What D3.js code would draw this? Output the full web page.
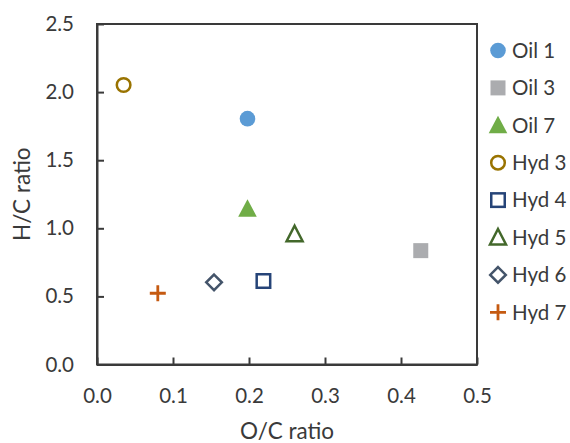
<!DOCTYPE html>
<html><head><meta charset="utf-8">
<script src="https://cdn.jsdelivr.net/npm/d3@7"></script>
<style>
body{margin:0;background:#fff;}
svg text{font-family:Lato,"Open Sans",sans-serif;fill:#3a3a3a;}
</style></head>
<body><svg id="c" width="570" height="443"></svg>
<script>
const seriesNames = ["Oil 1","Oil 3","Oil 7","Hyd 3","Hyd 4","Hyd 5","Hyd 6","Hyd 7"];
const ocValues = [0.198, 0.426, 0.198, 0.035, 0.219, 0.260, 0.154, 0.080];
const hcValues = [1.805, 0.836, 1.142, 2.052, 0.613, 0.956, 0.603, 0.523];
const markerShapes = ["circle","square","triangle","circle","square","triangle","diamond","plus"];
const markerFilled = [true, true, true, false, false, false, false, false];
const seriesColors = ["#5B9BD5","#ABACAF","#70AD47","#997300","#264478","#43682B","#44546A","#C55A11"];
const xTickValues = [0, 0.1, 0.2, 0.3, 0.4, 0.5];
const yTickValues = [0, 0.5, 1.0, 1.5, 2.0, 2.5];
const xTitle = "O/C ratio", yTitle = "H/C ratio";

const svg = d3.select("#c");
const L = 97, R = 477, T = 24, B = 364.5;
const x = d3.scaleLinear().domain([0, 0.5]).range([L, R]);
const y = d3.scaleLinear().domain([0, 2.5]).range([B, T]);
const axisColor = "#3a3a3a";

// frame
svg.append("rect").attr("x", L).attr("y", T).attr("width", R - L).attr("height", B - T)
  .attr("fill", "none").attr("stroke", axisColor).attr("stroke-width", 2);

const xa = svg.append("g").attr("transform", `translate(0,${B})`)
  .call(d3.axisBottom(x).tickValues(xTickValues).tickFormat(d3.format(".1f"))
    .tickSizeInner(-7).tickSizeOuter(0).tickPadding(24));
const ya = svg.append("g").attr("transform", `translate(${L},0)`)
  .call(d3.axisLeft(y).tickValues(yTickValues).tickFormat(d3.format(".1f"))
    .tickSizeInner(-7).tickSizeOuter(0).tickPadding(23));
[xa, ya].forEach(g => {
  g.select(".domain").attr("stroke", axisColor).attr("stroke-width", 2);
  g.selectAll(".tick line").attr("stroke", axisColor).attr("stroke-width", 2);
  g.selectAll(".tick text").style("font-family", "Lato").style("font-size", "20.5px").attr("fill", "#3a3a3a");
});

svg.append("text").attr("x", (L + R) / 2).attr("y", 438.5).attr("text-anchor", "middle")
  .style("font-size", "22.5px").text(xTitle);
svg.append("text").attr("transform", `translate(30,${(T + B) / 2}) rotate(-90)`)
  .attr("text-anchor", "middle").style("font-size", "22.5px").text(yTitle);

function drawMarker(g, shape, filled, color) {
  const sw = 2.5;
  const fill = filled ? color : "none";
  const stroke = filled ? "none" : color;
  if (shape === "circle") {
    g.append("circle").attr("r", filled ? 7.8 : 6.8).attr("fill", fill).attr("stroke", stroke).attr("stroke-width", sw);
  } else if (shape === "square") {
    const s = filled ? 15 : 13.5;
    g.append("rect").attr("x", -s / 2).attr("y", -s / 2).attr("width", s).attr("height", s)
      .attr("fill", fill).attr("stroke", stroke).attr("stroke-width", sw);
  } else if (shape === "triangle") {
    const w = filled ? 9.3 : 8, h = filled ? 17.5 : 15.5;
    g.append("path").attr("d", `M0,${-h * 0.55}L${w},${h * 0.45}L${-w},${h * 0.45}Z`)
      .attr("fill", fill).attr("stroke", stroke).attr("stroke-width", sw).attr("stroke-linejoin", "miter");
  } else if (shape === "diamond") {
    const r = 7.8;
    g.append("path").attr("d", `M0,${-r}L${r},0L0,${r}L${-r},0Z`)
      .attr("fill", "none").attr("stroke", color).attr("stroke-width", sw);
  } else if (shape === "plus") {
    const r = 8;
    g.append("path").attr("d", `M${-r},0H${r}M0,${-r}V${r}`)
      .attr("fill", "none").attr("stroke", color).attr("stroke-width", 2.8);
  }
}

seriesNames.forEach((name, i) => {
  const g = svg.append("g").attr("transform", `translate(${x(ocValues[i])},${y(hcValues[i])})`);
  drawMarker(g, markerShapes[i], markerFilled[i], seriesColors[i]);
});

// legend
const ly = d3.scalePoint().domain(seriesNames).range([50.5, 312.3]);
seriesNames.forEach((name, i) => {
  const g = svg.append("g").attr("transform", `translate(498,${ly(name)})`);
  drawMarker(g, markerShapes[i], markerFilled[i], seriesColors[i]);
  svg.append("text").attr("x", 512).attr("y", ly(name)).attr("dy", "0.36em")
    .style("font-size", "20.5px").text(name);
});
</script></body></html>
